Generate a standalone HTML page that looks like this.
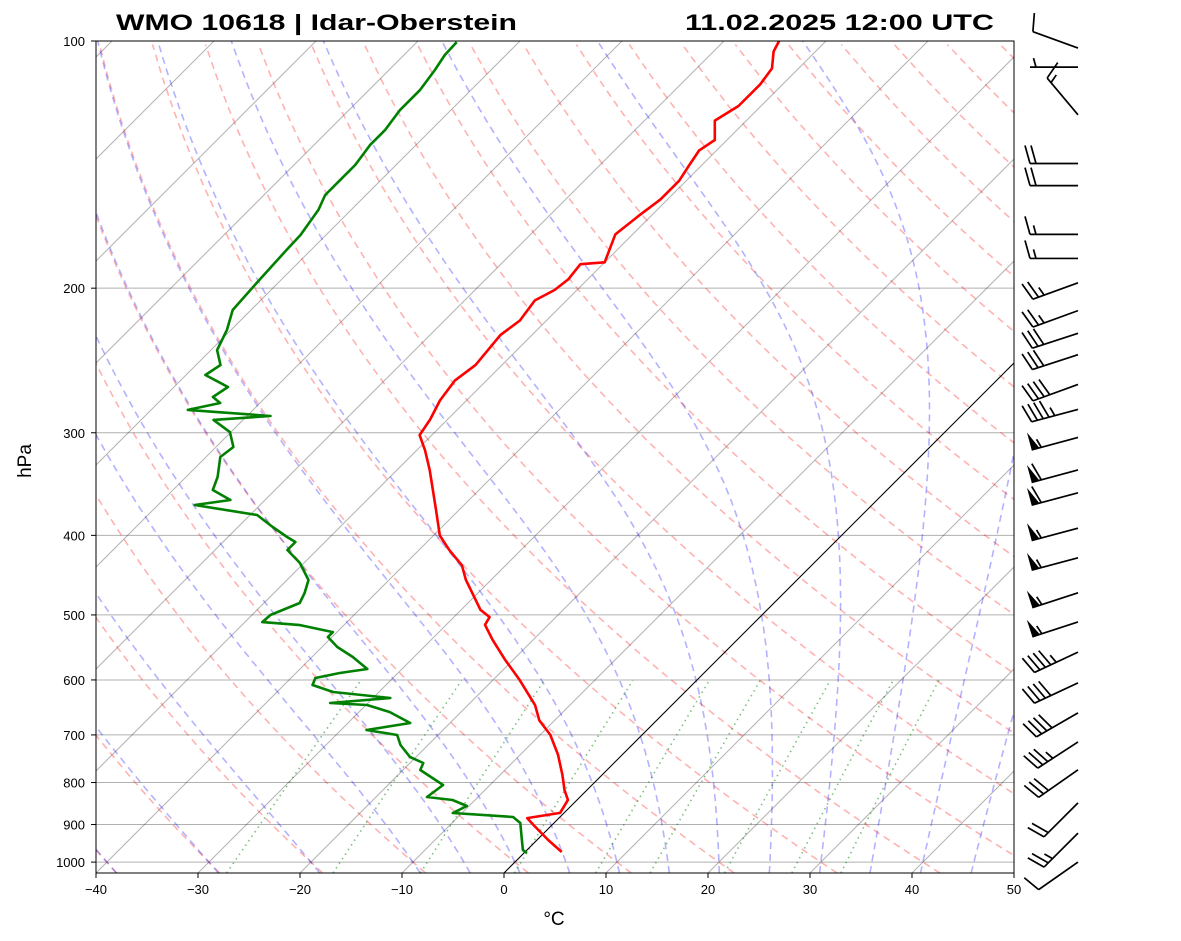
<!DOCTYPE html>
<html><head><meta charset="utf-8"><style>
html,body{margin:0;padding:0;background:#fff}
svg{display:block;font-family:"Liberation Sans","DejaVu Sans",sans-serif}
</style></head><body>
<svg id="chart" width="1181" height="941" viewBox="0 0 1181 941" xmlns="http://www.w3.org/2000/svg">
<defs><clipPath id="pc"><rect x="96" y="41" width="918" height="832"/></clipPath></defs>
<rect x="0" y="0" width="1181" height="941" fill="#fff"/>
<g id="bg" clip-path="url(#pc)"></g>
<g id="series" clip-path="url(#pc)"></g>
<rect x="96" y="41" width="918" height="832" fill="none" stroke="#000" stroke-width="1"/>
<g id="axes"></g>
<g id="barbs"></g>
<text x="116" y="30" font-size="22" font-weight="bold" textLength="401" lengthAdjust="spacingAndGlyphs">WMO 10618 | Idar-Oberstein</text>
<text x="685" y="30" font-size="22" font-weight="bold" textLength="309" lengthAdjust="spacingAndGlyphs">11.02.2025 12:00 UTC</text>
<text x="554" y="925" font-size="19" text-anchor="middle">°C</text>
<text x="31" y="461" font-size="19" text-anchor="middle" transform="rotate(-90 31 461)">hPa</text>
</svg>
<script>
const tempP=[100,103,108,113,120,125,132,136,142,148,156,163,172,186,187,195,201,207,219,228,248,259,274,289,302,315,333,373,400,417,435,453,493,503,514,536,567,600,644,672,700,740,783,817,840,871,884,904,940,972];
const tempT=[-54.6,-54.1,-52.6,-52.2,-52.2,-53.1,-51.2,-51.7,-51.2,-50.7,-50.7,-51.2,-51.7,-50.0,-52.2,-51.9,-52.2,-53.1,-52.6,-53.1,-52.6,-53.1,-52.6,-51.7,-51.2,-49.2,-46.8,-42.2,-39.4,-37.0,-34.3,-32.5,-28.1,-26.5,-26.2,-24.0,-20.8,-17.4,-13.4,-11.5,-9.0,-6.3,-3.9,-2.2,-0.9,-0.4,-3.1,-1.6,1.1,3.6];
const dewP=[100.3,104,108.5,114.7,121.3,128.4,133.9,141.6,147.7,154,160.6,172.3,179.7,197.1,212.6,224.9,237.9,248.1,255.1,263.9,271.4,276,281.4,286.2,289.4,299.4,312.2,321.1,339.6,352.2,362.2,367.4,377.8,390.7,401.9,407.5,416.8,432.3,453.3,470.2,483.6,500.1,510.1,514.4,524.6,532,547.1,562.6,581.9,588.5,596.8,608.6,620.6,631.2,640.1,643.7,656.4,677,690.4,700.1,720,744.6,757.3,772.4,805.6,833.1,840.2,854.5,871.4,881.2,896.2,932.1,966.8,974.9];
const dewT=[-86.1,-86.0,-85.5,-85.0,-85.0,-84.5,-84.5,-84.0,-84.0,-84.0,-83.2,-82.5,-82.4,-82.1,-81.8,-80.4,-79.4,-77.6,-78.1,-74.7,-75.2,-73.9,-76.4,-67.7,-72.9,-70.1,-68.3,-68.6,-66.9,-66.1,-63.4,-66.4,-59.3,-56.6,-54.2,-52.9,-52.9,-50.4,-47.9,-47.0,-46.5,-48.2,-48.3,-44.3,-40.4,-40.4,-38.5,-36.0,-33.4,-35.7,-37.6,-37.2,-34.5,-28.3,-33.7,-29.9,-27.0,-23.9,-27.5,-24.0,-22.7,-20.6,-18.7,-18.3,-14.6,-15.0,-12.2,-10.2,-10.9,-4.6,-3.3,-1.8,-0.4,0.3];
const barbP=[102,107.6,123,141,150,172,184,197,213,227,241,262,281,304,333,355,392,426,470,510,555,605,658,714,772,847,922,1000];
const barbDir=[290,270,320,270,270,270,270,250,250,252,252,250,255,255,255,255,255,255,252,252,245,245,240,237,235,225,225,235];
const barbSpd=[10,5,15,20,20,15,15,25,25,30,30,40,45,55,60,60,55,55,55,55,45,40,40,35,30,20,25,10];
const xTicks=[-40,-30,-20,-10,0,10,20,30,40,50];
const yTicks=[1000,900,800,700,600,500,400,300,200,100];

const NS="http://www.w3.org/2000/svg";
function yP(p){return 41+356.6*Math.log(p/100);}
function xT(T,p){return 504+T*10.2+(873-yP(p));}
function mk(tag,attrs,parent){const e=document.createElementNS(NS,tag);for(const k in attrs)e.setAttribute(k,attrs[k]);parent.appendChild(e);return e;}
const bg=document.getElementById('bg'),ser=document.getElementById('series'),ax=document.getElementById('axes'),bb=document.getElementById('barbs');
function pathFrom(ps,ts){return ps.map((p,i)=>(i?'L':'M')+xT(ts[i],p).toFixed(1)+','+yP(p).toFixed(1)).join('');}
const pBot=1031;
yTicks.forEach(p=>{
  const l=mk('line',{x1:96,x2:1014,y1:yP(p),y2:yP(p),stroke:'#b0b0b0','stroke-width':1},bg);
  
  
});
for(let T=-130;T<=50;T+=10){
  const l=mk('line',{x1:xT(T,pBot),y1:yP(pBot),x2:xT(T,100),y2:yP(100),stroke:'rgba(0,0,0,0.3)','stroke-width':1},bg);
  
  
}
for(let th=-50;th<=220;th+=10){
  let d='';
  for(let p=pBot;p>=100;p-=10){const T=(th+273.15)*Math.pow(p/1000,0.2857)-273.15;d+=(d?'L':'M')+xT(T,p).toFixed(1)+','+yP(p).toFixed(1);}
  const e=mk('path',{d:d,fill:'none',stroke:'rgba(255,0,0,0.3)','stroke-width':1.6,'stroke-dasharray':'7,5'},bg);
  
  
}
function es(Tk){return 6.112*Math.exp(17.67*(Tk-273.15)/(Tk-29.65));}
function dTdp(p,T){const e=es(T);const rs=0.622*e/Math.max(p-e,1e-3);return (287.04*T+2.501e6*rs)/(p*(1005.7+2.501e6*2.501e6*rs*0.622/(287.04*T*T)));}
function integ(T0,p0,p1,h){const pts=[[p0,T0]];let p=p0,T=T0;const n=Math.ceil(Math.abs(p1-p0)/h);const s=(p1-p0)/n;for(let i=0;i<n;i++){const k1=dTdp(p,T),k2=dTdp(p+s/2,T+s*k1/2),k3=dTdp(p+s/2,T+s*k2/2),k4=dTdp(p+s,T+s*k3);T+=s*(k1+2*k2+2*k3+k4)/6;p+=s;pts.push([p,T]);}return pts;}
[-40,-30,-20,-10,-5,0,5,10,15,20,25,30,35,40,45].forEach(t0=>{
  const up=integ(t0+273.15,1000,100,5),dn=integ(t0+273.15,1000,pBot,5);
  const all=dn.reverse().concat(up.slice(1));
  const d=all.map((q,i)=>(i?'L':'M')+xT(q[1]-273.15,q[0]).toFixed(1)+','+yP(q[0]).toFixed(1)).join('');
  const e=mk('path',{d:d,fill:'none',stroke:'rgba(0,0,255,0.3)','stroke-width':1.6,'stroke-dasharray':'7,5'},bg);
  
  
});
[0.0004,0.001,0.002,0.004,0.007,0.01,0.016,0.024,0.032].forEach(w=>{
  let d='';
  for(let p=pBot;p>=600;p-=10){const e=p*w/(0.622+w);const l=Math.log(e/6.112);const Td=243.5*l/(17.67-l);d+=(d?'L':'M')+xT(Td,p).toFixed(1)+','+yP(p).toFixed(1);}
  const e=mk('path',{d:d,fill:'none',stroke:'rgba(0,128,0,0.5)','stroke-width':1.6,'stroke-dasharray':'1.5,4'},bg);
  
  
});
const z=mk('line',{x1:xT(0,pBot),y1:yP(pBot),x2:xT(0,100),y2:yP(100),stroke:'#000','stroke-width':1},bg);


const tl=mk('path',{d:pathFrom(tempP,tempT),fill:'none',stroke:'#ff0000','stroke-width':2.6,'stroke-linejoin':'round'},ser);


const dl=mk('path',{d:pathFrom(dewP,dewT),fill:'none',stroke:'#008000','stroke-width':2.6,'stroke-linejoin':'round'},ser);


xTicks.forEach(t=>{
  const x=96+(t+40)*10.2;
  const tk=mk('line',{x1:x,x2:x,y1:873,y2:878,stroke:'#000'},ax);
  
  
  const tx=mk('text',{x:x,y:894,'font-size':13,'text-anchor':'middle'},ax);
  tx.textContent=(t<0?'\u2212'+(-t):String(t));
  
  
});
yTicks.forEach(p=>{
  const y=yP(p);
  const tk=mk('line',{x1:91,x2:96,y1:y,y2:y,stroke:'#000'},ax);
  
  
  const tx=mk('text',{x:85,y:y+5,'font-size':13,'text-anchor':'end'},ax);
  tx.textContent=String(p);
  
  
});
barbP.forEach((p,i)=>{
  const ox=1078,oy=yP(p),a=barbDir[i]*Math.PI/180,L=48;
  const ux=Math.sin(a),uy=-Math.cos(a);
  let px=uy,py=-ux; if(py>0||(Math.abs(py)<1e-6&&px>0)){px=-px;py=-py;}
  const g=mk('g',{},bb);
  
  
  const tx=ox+ux*L,ty=oy+uy*L;
  mk('line',{x1:ox,y1:oy,x2:tx,y2:ty,stroke:'#000','stroke-width':1.7},g);
  let s=Math.round(barbSpd[i]/5)*5,pos=0;
  while(s>=50){const bx=tx-ux*pos,by=ty-uy*pos;const cx=bx-ux*8,cy=by-uy*8;
    mk('polygon',{points:`${bx},${by} ${cx},${cy} ${bx+px*18},${by+py*18}`,fill:'#000'},g);pos+=10;s-=50;}
  while(s>=10){const bx=tx-ux*pos,by=ty-uy*pos;
    mk('line',{x1:bx,y1:by,x2:bx+px*18+ux*5,y2:by+py*18+uy*5,stroke:'#000','stroke-width':1.7},g);pos+=6;s-=10;}
  if(s>=5){if(pos===0)pos=6;const bx=tx-ux*pos,by=ty-uy*pos;
    mk('line',{x1:bx,y1:by,x2:bx+px*9+ux*2.5,y2:by+py*9+uy*2.5,stroke:'#000','stroke-width':1.7},g);}
});
</script>
</body></html>
